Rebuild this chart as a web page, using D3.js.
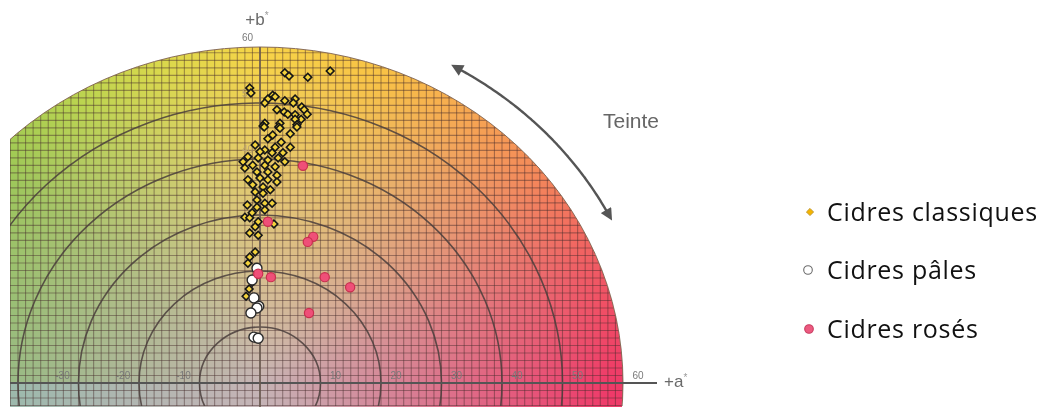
<!DOCTYPE html>
<html><head><meta charset="utf-8">
<script src="https://cdn.jsdelivr.net/npm/d3@7"></script>
<style>
html,body{margin:0;padding:0;background:#fff;}
#wrap{position:relative;width:1045px;height:407px;overflow:hidden;}
canvas,svg{position:absolute;left:0;top:0;}
</style></head><body>
<div id="wrap"><canvas id="bg" width="1045" height="407"></canvas><svg id="chart" width="1045" height="407"></svg></div>
<script>
// ---- data (a*, b*) ----
const classiques = [
[4.1,55.4],[4.8,54.8],[7.9,54.6],[11.6,55.7],[-1.7,52.7],[-1.5,51.8],[2.1,51.4],[1.3,50.7],[0.8,50.0],[2.5,51.1],[4.1,50.4],[5.8,50.7],[5.5,50.0],[6.9,49.3],[2.8,48.8],[4.0,48.4],[4.6,48.0],[5.8,47.9],[7.3,48.8],[7.8,48.0],[6.8,47.1],[5.8,47.1],[0.8,46.4],[3.3,46.4],[3.1,45.7],[6.1,46.1],[0.5,45.9],
[0.7,45.7],[3.3,45.5],[6.1,45.7],[5.0,44.5],[2.1,44.3],[1.3,43.6],[3.5,43.0],[5.0,42.1],[2.5,42.1],[0.8,41.6],[-0.8,42.5],[0.0,41.3],[2.0,41.1],[3.8,41.1],[-2.0,40.4],[-0.3,40.2],[1.3,39.8],[3.0,40.2],[4.1,39.5],[-2.8,39.5],[-1.2,38.9],[0.8,38.9],[2.5,38.6],[-2.5,38.4],[-0.5,37.7],[1.3,37.7],[2.8,37.1],[-2.0,36.3],[0.0,36.6],[1.3,36.3],[2.8,35.9],[-1.2,35.4],[0.5,35.0],[-0.8,34.1],[1.7,34.5],
[0.5,33.9],[-2.1,31.8],[-0.5,32.7],[-0.5,31.4],[0.8,32.1],[2.0,32.1],[0.8,30.9],[-2.5,29.6],[-1.7,29.5],[-1.3,30.4],[-0.3,28.8],[-0.8,27.9],[-1.7,26.8],[-0.3,26.4],[-0.8,23.4],[2.3,28.4],
[-1.7,22.5],[-2.0,21.4],[-1.3,18.0],[-1.8,16.8],[-2.3,15.5]
];
const pales = [[-0.5,20.5],[-1.3,18.4],[-1.0,15.2],[-0.2,13.7],[-0.5,13.4],[-1.5,12.5],[-1.0,8.2],[-0.3,8.0]];
const roses = [[7.1,38.8],[1.3,28.8],[8.8,26.1],[7.9,25.2],[-0.3,19.5],[1.8,18.9],[10.7,18.9],[14.9,17.1],[8.1,12.5]];
const xTickValues = [-30,-20,-10,10,20,30,40,50,60];
const yTickValues = [40,50,60];
const ringValues = [10,20,30,40,50];
const outerValue = 60;
const legendLabels = ["Cidres classiques","Cidres pâles","Cidres rosés"];

// ---- scales ----
const x = d3.scaleLinear().domain([0,60]).range([260,623]);
const y = d3.scaleLinear().domain([0,60]).range([383,47]);
const rx = v => x(v)-x(0), ry = v => y(0)-y(v);
const leftEdge = 10, bottomEdge = 406;

// ---- background (canvas) ----
const hueScale = d3.scaleLinear()
  .domain([-180,-90,-10,0,20,40,55,70,90,105,120,138,160,180])
  .range(['#8cbca8','#aaaac8','#ee3c6c','#ef3a68','#f05a64','#f48a5a','#f6a852','#f8c246','#f7d448','#dcd84c','#bcd450','#9cc855','#8cc260','#88bc72'])
  .interpolate(d3.interpolateRgb);
const center = d3.rgb('#c6b4b5');
const cv = document.getElementById('bg'), ctx = cv.getContext('2d');
const img = ctx.createImageData(1045,407);
for(let py=0; py<407; py++){
  for(let px=0; px<1045; px++){
    if(px<leftEdge || py>bottomEdge) continue;
    const a = x.invert(px+0.5), b = y.invert(py+0.5);
    const r = Math.sqrt(a*a+b*b);
    if(r>outerValue) continue;
    const th = Math.atan2(b,a)*180/Math.PI;
    const hc = d3.rgb(hueScale(th));
    const f = Math.pow(Math.min(1,r/58),0.95);
    const i = (py*1045+px)*4;
    img.data[i]   = center.r + (hc.r-center.r)*f;
    img.data[i+1] = center.g + (hc.g-center.g)*f;
    img.data[i+2] = center.b + (hc.b-center.b)*f;
    img.data[i+3] = 255;
  }
}
ctx.putImageData(img,0,0);

// ---- svg ----
const svg = d3.select('#chart');
const defs = svg.append('defs');
defs.append('clipPath').attr('id','rectClip').append('rect')
  .attr('x',leftEdge).attr('y',0).attr('width',1045).attr('height',bottomEdge);
defs.append('clipPath').attr('id','ellClip').append('ellipse')
  .attr('cx',x(0)).attr('cy',y(0)).attr('rx',rx(outerValue)).attr('ry',ry(outerValue));
defs.append('marker').attr('id','arrow').attr('viewBox','0 0 10 10')
  .attr('refX',2).attr('refY',5).attr('markerWidth',5.5).attr('markerHeight',5)
  .attr('orient','auto-start-reverse').attr('markerUnits','strokeWidth')
  .append('path').attr('d','M0,0 L10,5 L0,10 z').attr('fill','#555');

const g1 = svg.append('g').attr('clip-path','url(#rectClip)');
const g = g1.append('g').attr('clip-path','url(#ellClip)');

// grid
const stepA = 1.25, stepB = 1.34;
const va = d3.range(Math.ceil(-outerValue/stepA), Math.floor(outerValue/stepA)+1).map(k=>k*stepA);
const hb = d3.range(-4, Math.floor(outerValue/stepB)+1).map(k=>k*stepB);
g.selectAll('line.v').data(va).join('line').attr('class','v')
  .attr('x1',d=>x(d)).attr('x2',d=>x(d)).attr('y1',0).attr('y2',407)
  .attr('stroke','rgba(70,45,45,0.45)').attr('stroke-width',1.1);
g.selectAll('line.h').data(hb).join('line').attr('class','h')
  .attr('y1',d=>y(d)).attr('y2',d=>y(d)).attr('x1',0).attr('x2',700)
  .attr('stroke','rgba(70,45,45,0.45)').attr('stroke-width',1.1);

// rings
g.selectAll('ellipse.ring').data(ringValues).join('ellipse').attr('class','ring')
  .attr('cx',x(0)).attr('cy',y(0)).attr('rx',d=>rx(d)).attr('ry',d=>ry(d))
  .attr('fill','none').attr('stroke','#4a3e3c').attr('stroke-opacity',0.85).attr('stroke-width',1.6);
g1.append('ellipse').attr('cx',x(0)).attr('cy',y(0)).attr('rx',rx(outerValue)).attr('ry',ry(outerValue))
  .attr('fill','none').attr('stroke','#8a6e5a').attr('stroke-width',1);

// axes
svg.append('line').attr('x1',leftEdge).attr('x2',657).attr('y1',y(0)).attr('y2',y(0))
  .attr('stroke','#555').attr('stroke-width',2);
svg.append('line').attr('x1',x(0)).attr('x2',x(0)).attr('y1',y(outerValue)).attr('y2',407)
  .attr('stroke','#6a5a50').attr('stroke-width',1.6);

// tick labels
svg.selectAll('text.xt').data(xTickValues).join('text').attr('class','xt')
  .attr('x',d=>x(d)+(d>0?15:-16)).attr('y',y(0)-4)
  .attr('text-anchor','middle').attr('font-family','Liberation Sans, Arial, sans-serif')
  .attr('font-size',10).attr('fill','#7a7a7a').text(d=>d);
svg.selectAll('text.yt').data(yTickValues).join('text').attr('class','yt')
  .attr('x',x(0)-7).attr('y',d=>y(d)-6).attr('text-anchor','end')
  .attr('font-family','Liberation Sans, Arial, sans-serif')
  .attr('font-size',10).attr('fill',d=>d===60?'#7a7a7a':'#b8a070').text(d=>d);

// axis titles
const tb = svg.append('text').attr('x',x(0)-3).attr('y',25).attr('text-anchor','middle')
  .attr('font-family','Liberation Sans, Arial, sans-serif').attr('font-size',17).attr('fill','#6a6a6a');
tb.append('tspan').text('+b');
tb.append('tspan').attr('font-size',10).attr('dy',-6).attr('fill','#999').text('*');
const ta = svg.append('text').attr('x',664).attr('y',387)
  .attr('font-family','Liberation Sans, Arial, sans-serif').attr('font-size',17).attr('fill','#6a6a6a');
ta.append('tspan').text('+a');
ta.append('tspan').attr('font-size',10).attr('dy',-6).attr('fill','#999').text('*');

// Teinte arrow
const arcR = 65;
const arcAngles = d3.range(59.5, 27.5, -0.5);
svg.append('path')
  .attr('d', d3.line().curve(d3.curveBasis)(arcAngles.map(t=>[x(arcR*Math.cos(t*Math.PI/180)), y(arcR*Math.sin(t*Math.PI/180))])))
  .attr('fill','none').attr('stroke','#555').attr('stroke-width',2.4)
  .attr('marker-start','url(#arrow)').attr('marker-end','url(#arrow)');
svg.append('text').attr('x',631).attr('y',128).attr('text-anchor','middle')
  .attr('font-family','Liberation Sans, Arial, sans-serif').attr('font-size',21).attr('fill','#666').text('Teinte');

// points
const diamond = d3.symbol().type(d3.symbolSquare).size(30);
svg.append('g').selectAll('path').data(classiques).join('path')
  .attr('d',diamond).attr('transform',d=>`translate(${x(d[0])},${y(d[1])}) rotate(45)`)
  .attr('fill','#f2d23c').attr('stroke','#161616').attr('stroke-width',1.6);
svg.append('g').selectAll('circle').data(pales).join('circle')
  .attr('cx',d=>x(d[0])).attr('cy',d=>y(d[1])).attr('r',5)
  .attr('fill','#fff').attr('stroke','#2a2a2a').attr('stroke-width',1.4);
svg.append('g').selectAll('circle').data(roses).join('circle')
  .attr('cx',d=>x(d[0])).attr('cy',d=>y(d[1])).attr('r',4.6)
  .attr('fill','#ef4f78').attr('stroke','#c8304f').attr('stroke-width',1.2);

// legend
const leg = svg.append('g');
const rowY = [212,270,329];
leg.append('path').attr('d',d3.symbol().type(d3.symbolSquare).size(26))
  .attr('transform',`translate(810,${rowY[0]}) rotate(45)`)
  .attr('fill','#f4b400').attr('stroke','#b8902a').attr('stroke-width',0.8);
leg.append('circle').attr('cx',808).attr('cy',rowY[1]).attr('r',4.3)
  .attr('fill','#fff').attr('stroke','#6a6a6a').attr('stroke-width',1.1);
leg.append('circle').attr('cx',809).attr('cy',rowY[2]).attr('r',4.3)
  .attr('fill','#ec5a80').attr('stroke','#c83a5e').attr('stroke-width',1.1);
leg.selectAll('text').data(legendLabels).join('text')
  .attr('x',827).attr('y',(d,i)=>rowY[i]+9)
  .attr('font-family','Open Sans, sans-serif').attr('font-size',25).attr('letter-spacing',0.7)
  .attr('fill','#111').text(d=>d);
</script>
</body></html>
